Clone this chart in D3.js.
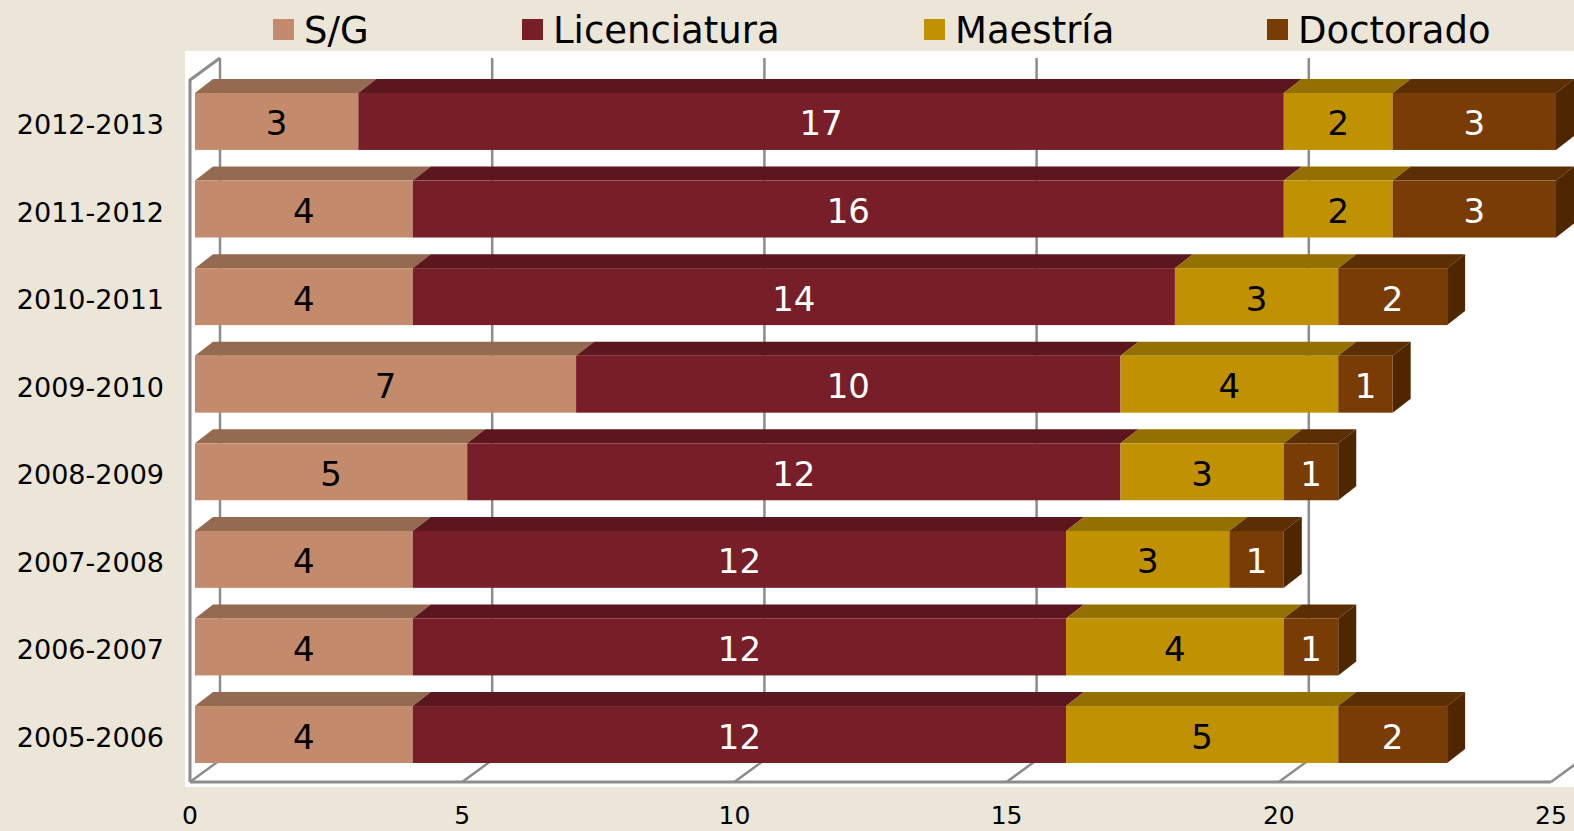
<!DOCTYPE html>
<html>
<head>
<meta charset="utf-8">
<script src="https://d3js.org/d3.v7.min.js"></script>
<style>
  body { margin: 0; background: #ebe6d8; }
  svg { display: block; }
  text { font-family: "DejaVu Sans", Verdana, sans-serif; }
</style>
</head>
<body>
<svg id="drawing_region"></svg>
<script>
// data, top row first
const periods = ["2012-2013", "2011-2012", "2010-2011", "2009-2010",
                 "2008-2009", "2007-2008", "2006-2007", "2005-2006"];
const seriesNames = ["S/G", "Licenciatura", "Maestría", "Doctorado"];
const sg           = [3, 4, 4, 7, 5, 4, 4, 4];
const licenciatura = [17, 16, 14, 10, 12, 12, 12, 12];
const maestria     = [2, 2, 3, 4, 3, 3, 4, 5];
const doctorado    = [3, 3, 2, 1, 1, 1, 1, 2];
const xTicks = [0, 5, 10, 15, 20, 25];

const colors = {
    front: ["#c38b6c", "#771e28", "#c09100", "#7a3c05"],
    top:   ["#946a50", "#5c161e", "#937000", "#5b2e03"],
    side:  ["#7a563f", "#4a1118", "#745800", "#4e2600"],
    label: ["#000", "#fff", "#000", "#fff"]
};

const config = {
    width: 1574,
    height: 831,
    plot: {x: 185, y: 51, right: 1574, bottom: 787},
    floorY: 782,
    depth: {dx: 30, dy: -22},   // floor front -> back wall
    barOffset: 5,               // bar front face offset from floor front
    barDepth: {dx: 18, dy: -14},
    legendX: [273, 522, 924, 1267]
};

const svg = d3.select('#drawing_region')
    .attr('width', config.width)
    .attr('height', config.height);

// white plot area
svg.append('rect')
    .attr('x', config.plot.x)
    .attr('y', config.plot.y)
    .attr('width', config.plot.right - config.plot.x)
    .attr('height', config.plot.bottom - config.plot.y)
    .attr('fill', '#fff');

const xscale = d3.scaleLinear()
    .domain([0, 25])
    .range([190, 1551]);

const yscale = d3.scaleBand()
    .domain(periods)
    .range([75.5, 780.5])
    .paddingInner(0.35)
    .paddingOuter(0.2);

const dx = config.depth.dx, dy = config.depth.dy;
const backTop = 58;
const backBottom = config.floorY + dy;
const gridColor = '#8c8c8c';

// back wall grid lines
svg.append('g').selectAll('line')
    .data(xTicks)
    .join('line')
    .attr('x1', d => xscale(d) + dx)
    .attr('x2', d => xscale(d) + dx)
    .attr('y1', backTop)
    .attr('y2', backBottom)
    .attr('stroke', gridColor)
    .attr('stroke-width', 2.5);

// floor
const floor = svg.append('g');
floor.selectAll('line.ftick')
    .data(xTicks)
    .join('line')
    .attr('class', 'ftick')
    .attr('x1', d => xscale(d))
    .attr('y1', config.floorY)
    .attr('x2', d => xscale(d) + dx)
    .attr('y2', backBottom)
    .attr('stroke', gridColor)
    .attr('stroke-width', 2.5);
floor.append('line')
    .attr('x1', xscale(0)).attr('x2', xscale(25))
    .attr('y1', config.floorY).attr('y2', config.floorY)
    .attr('stroke', gridColor)
    .attr('stroke-width', 3);

// left side wall
const leftTop = backTop - dy;
svg.append('path')
    .attr('d', `M${xscale(0)},${config.floorY} L${xscale(0)},${leftTop} L${xscale(0) + dx},${backTop}`)
    .attr('fill', 'none')
    .attr('stroke', gridColor)
    .attr('stroke-width', 3);

// stacked data
const rows = periods.map((p, i) => {
    const vals = [sg[i], licenciatura[i], maestria[i], doctorado[i]];
    let acc = 0;
    const segs = vals.map((v, k) => {
        const s = {period: p, k: k, v: v, x0: acc, x1: acc + v};
        acc += v;
        return s;
    });
    return {period: p, segs: segs, total: acc};
});

const bx = v => xscale(v) + config.barOffset;
const bdx = config.barDepth.dx, bdy = config.barDepth.dy;
const bh = yscale.bandwidth();

const barGroups = svg.append('g').selectAll('g')
    .data(rows)
    .join('g');

// top faces
barGroups.selectAll('path.top')
    .data(d => d.segs)
    .join('path')
    .attr('class', 'top')
    .attr('d', d => {
        const y = yscale(d.period);
        return `M${bx(d.x0)},${y} L${bx(d.x1)},${y} L${bx(d.x1) + bdx},${y + bdy} L${bx(d.x0) + bdx},${y + bdy}Z`;
    })
    .attr('fill', d => colors.top[d.k]);

// right face of the last segment
barGroups.append('path')
    .attr('d', d => {
        const y = yscale(d.period), x = bx(d.total);
        return `M${x},${y} L${x + bdx},${y + bdy} L${x + bdx},${y + bh + bdy} L${x},${y + bh}Z`;
    })
    .attr('fill', colors.side[3]);

// front faces
barGroups.selectAll('rect')
    .data(d => d.segs)
    .join('rect')
    .attr('x', d => bx(d.x0))
    .attr('y', d => yscale(d.period))
    .attr('width', d => bx(d.x1) - bx(d.x0))
    .attr('height', bh)
    .attr('fill', d => colors.front[d.k]);

// value labels
barGroups.selectAll('text')
    .data(d => d.segs)
    .join('text')
    .attr('x', d => (bx(d.x0) + bx(d.x1)) / 2)
    .attr('y', d => yscale(d.period) + bh / 2 + 2)
    .attr('text-anchor', 'middle')
    .attr('dominant-baseline', 'central')
    .attr('fill', d => colors.label[d.k])
    .style('font-size', '34px')
    .text(d => d.v);

// category labels
svg.append('g').selectAll('text')
    .data(periods)
    .join('text')
    .attr('x', 164)
    .attr('y', d => yscale(d) + bh / 2 + 3)
    .attr('text-anchor', 'end')
    .attr('dominant-baseline', 'central')
    .attr('fill', '#000')
    .style('font-size', '27px')
    .text(d => d);

// x tick labels
svg.append('g').selectAll('text')
    .data(xTicks)
    .join('text')
    .attr('x', d => xscale(d))
    .attr('y', 824)
    .attr('text-anchor', 'middle')
    .attr('fill', '#000')
    .style('font-size', '25px')
    .text(d => d);

// legend
const legend = svg.append('g');
seriesNames.forEach((name, k) => {
    const lx = config.legendX[k];
    legend.append('rect')
        .attr('x', lx).attr('y', 19)
        .attr('width', 21).attr('height', 21)
        .attr('fill', colors.front[k]);
    legend.append('text')
        .attr('x', lx + 31)
        .attr('y', 43)
        .attr('fill', '#000')
        .style('font-size', '37px')
        .text(name);
});
</script>
</body>
</html>
